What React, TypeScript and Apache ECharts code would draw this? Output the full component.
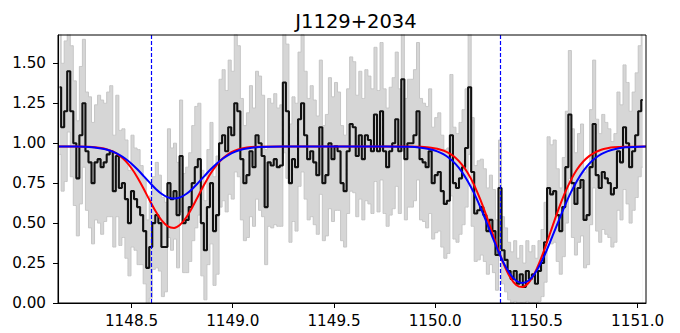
import React, { useEffect, useRef } from 'react';
import * as echarts from 'echarts';

const titleText = 'J1129+2034';
const waveStart = 1148.145;
const waveStep = 0.015;

const flux = [
  1.35, 1.1, 1.2, 1.45, 1.2, 1.0, 0.78, 1.05, 1.25, 0.95,
  0.88, 0.75, 0.88, 0.9, 0.85, 0.88, 0.93, 0.95, 0.7, 0.92,
  0.72, 0.75, 0.65, 0.5, 0.7, 0.65, 0.6, 0.55, 0.45, 0.22,
  0.35, 0.5, 0.55, 0.5, 0.35, 0.35, 0.75, 0.65, 0.7, 0.55,
  0.92, 0.5, 0.52, 0.6, 0.75, 0.85, 0.9, 0.5, 0.33, 0.6,
  0.75, 0.45, 0.55, 1.0, 1.05, 0.95, 1.1, 1.05, 1.25, 1.2,
  0.9, 0.75, 0.8, 0.95, 0.85, 1.05, 1.0, 0.92, 0.6, 0.88,
  0.86, 0.9, 0.85, 0.86, 1.38, 1.2, 0.75, 0.9, 0.85, 1.15,
  1.25, 1.05, 0.9, 0.95, 0.88, 0.8, 1.1, 0.75, 0.8, 1.0,
  0.9, 0.98, 0.95, 0.75, 0.7, 0.95, 1.12, 1.1, 0.92, 1.05,
  0.9, 1.05, 1.02, 0.95, 1.18, 0.95, 1.2, 0.95, 0.85, 0.95,
  1.0, 1.15, 0.95, 1.4, 0.9, 1.0, 1.0, 1.05, 1.2, 0.9,
  0.88, 0.85, 0.95, 0.75, 0.8, 0.82, 0.7, 0.62, 0.64, 1.05,
  0.75, 0.72, 0.78, 0.85, 0.97, 1.35, 0.82, 0.56, 0.58, 0.6,
  0.55, 0.45, 0.52, 0.45, 0.3, 0.72, 0.33, 0.27, 0.2, 0.15,
  0.2, 0.12, 0.18, 0.1, 0.2, 0.15, 0.18, 0.12, 0.2, 0.25,
  0.38, 0.72, 0.68, 0.7, 0.55, 0.45, 0.6, 0.85, 1.18, 0.75,
  0.62, 0.72, 0.77, 0.52, 0.55, 0.85, 1.12, 0.8, 0.72, 0.82,
  0.78, 0.75, 0.68, 0.72, 0.95, 0.88, 1.1, 1.0, 0.85, 0.95,
  1.05, 1.2, 1.27,
];

const fluxErr = [
  0.42, 0.40, 0.44, 0.38, 0.41, 0.39, 0.36, 0.43, 0.40, 0.37,
  0.41, 0.38, 0.36, 0.40, 0.42, 0.37, 0.39, 0.41, 0.35, 0.38,
  0.36, 0.34, 0.37, 0.33, 0.35, 0.32, 0.36, 0.31, 0.33, 0.30,
  0.32, 0.29, 0.33, 0.30, 0.31, 0.28, 0.34, 0.32, 0.30, 0.33,
  0.35, 0.31, 0.33, 0.34, 0.36, 0.38, 0.35, 0.33, 0.31, 0.36,
  0.38, 0.34, 0.37, 0.40, 0.41, 0.38, 0.42, 0.40, 0.43, 0.41,
  0.38, 0.36, 0.39, 0.41, 0.37, 0.40, 0.42, 0.38, 0.36, 0.40,
  0.39, 0.41, 0.37, 0.38, 0.44, 0.42, 0.37, 0.39, 0.40, 0.42,
  0.43, 0.40, 0.38, 0.41, 0.39, 0.37, 0.42, 0.36, 0.38, 0.41,
  0.39, 0.40, 0.37, 0.36, 0.35, 0.39, 0.42, 0.41, 0.38, 0.40,
  0.38, 0.41, 0.40, 0.39, 0.42, 0.38, 0.43, 0.39, 0.37, 0.40,
  0.41, 0.42, 0.39, 0.45, 0.38, 0.40, 0.40, 0.41, 0.43, 0.38,
  0.37, 0.38, 0.39, 0.35, 0.36, 0.37, 0.35, 0.34, 0.33, 0.38,
  0.35, 0.34, 0.35, 0.36, 0.37, 0.42, 0.34, 0.30, 0.31, 0.30,
  0.29, 0.27, 0.28, 0.26, 0.22, 0.30, 0.21, 0.20, 0.18, 0.17,
  0.19, 0.16, 0.18, 0.15, 0.19, 0.17, 0.18, 0.16, 0.19, 0.21,
  0.25, 0.32, 0.31, 0.32, 0.29, 0.27, 0.31, 0.35, 0.40, 0.34,
  0.32, 0.34, 0.35, 0.30, 0.31, 0.36, 0.40, 0.35, 0.34, 0.36,
  0.35, 0.34, 0.33, 0.34, 0.37, 0.36, 0.39, 0.38, 0.35, 0.37,
  0.39, 0.41, 0.42,
];

const modelWave = [
  1148.14, 1148.22, 1148.29,
  1148.35, 1148.38, 1148.41, 1148.44, 1148.47, 1148.50, 1148.53, 1148.56, 1148.59,
  1148.62, 1148.65, 1148.68, 1148.71, 1148.74, 1148.77, 1148.80, 1148.83, 1148.86,
  1148.89, 1148.92, 1148.95, 1148.98, 1149.01, 1149.04, 1149.07,
  1149.13, 1149.25, 1149.50, 1149.75, 1149.87, 1149.93,
  1149.98, 1150.01, 1150.04, 1150.07, 1150.10, 1150.13, 1150.16, 1150.19, 1150.22,
  1150.25, 1150.28, 1150.31, 1150.34, 1150.37, 1150.40, 1150.43, 1150.46, 1150.49,
  1150.52, 1150.55, 1150.58, 1150.61, 1150.64, 1150.67, 1150.70, 1150.73, 1150.76,
  1150.79, 1150.82, 1150.85, 1150.88,
  1150.94, 1151.04,
];

const modelRed = [
  0.98, 0.98, 0.978,
  0.970, 0.961, 0.947, 0.923, 0.889, 0.843, 0.784, 0.715, 0.641,
  0.572, 0.515, 0.479, 0.470, 0.490, 0.535, 0.598, 0.671, 0.743,
  0.809, 0.863, 0.904, 0.934, 0.953, 0.965, 0.973,
  0.978, 0.98, 0.98, 0.98, 0.98, 0.977,
  0.972, 0.965, 0.954, 0.936, 0.909, 0.869, 0.815, 0.744, 0.656,
  0.556, 0.447, 0.338, 0.239, 0.161, 0.113, 0.100, 0.125, 0.184,
  0.270, 0.373, 0.483, 0.590, 0.687, 0.769, 0.835, 0.884, 0.919,
  0.943, 0.959, 0.968, 0.974,
  0.978, 0.98,
];

const modelBlue = [
  0.98, 0.979, 0.976,
  0.967, 0.959, 0.946, 0.927, 0.903, 0.872, 0.835, 0.794, 0.753,
  0.714, 0.682, 0.661, 0.654, 0.661, 0.682, 0.714, 0.753, 0.794,
  0.835, 0.872, 0.903, 0.927, 0.946, 0.959, 0.967,
  0.976, 0.98, 0.98, 0.98, 0.978, 0.972,
  0.961, 0.949, 0.932, 0.906, 0.871, 0.824, 0.764, 0.692, 0.608,
  0.516, 0.421, 0.328, 0.246, 0.181, 0.139, 0.125, 0.139, 0.181,
  0.246, 0.328, 0.421, 0.516, 0.608, 0.692, 0.764, 0.824, 0.871,
  0.906, 0.932, 0.949, 0.961,
  0.974, 0.98,
];

const lineCenters = [1148.6, 1150.323];
const xTicks = [1148.5, 1149.0, 1149.5, 1150.0, 1150.5, 1151.0];
const yTicks = [0, 0.25, 0.5, 0.75, 1.0, 1.25, 1.5];
const xRange = [1148.137, 1151.041];
const yRange = [0, 1.677];

const FONT = 'DejaVu Sans';
const BAND_EDGE = '#c6c6c6';
const DASH_BLUE = '#0000ff';

export default function App() {
  const ref = useRef<HTMLDivElement>(null);
  useEffect(() => {
    document.body.style.margin = '0';
    const chart = echarts.init(ref.current as HTMLDivElement, null, { renderer: 'svg' });
    const wave = flux.map((_, i) => +(waveStart + waveStep * i).toFixed(4));
    const upper = flux.map((f, i) => [wave[i], f + fluxErr[i]]);
    const lower = flux.map((f, i) => [wave[i], f - fluxErr[i]]);
    const spec = flux.map((f, i) => [wave[i], f]);
    const red = modelWave.map((w, i) => [w, modelRed[i]]);
    const blue = modelWave.map((w, i) => [w, modelBlue[i]]);

    const dashStyle = { color: DASH_BLUE, type: [4, 2], width: 1.2 };

    chart.setOption({
      animation: false,
      title: {
        text: titleText,
        left: 351,
        top: 6,
        textAlign: 'center',
        textStyle: { fontFamily: FONT, fontSize: 19.5, fontWeight: 'normal', color: '#000' },
      },
      grid: {
        left: 58, right: 34, top: 35, bottom: 30,
        show: true, borderColor: '#000', borderWidth: 1, backgroundColor: 'transparent', z: 10,
      },
      xAxis: {
        type: 'value',
        z: 10,
        min: xRange[0], max: xRange[1],
        axisLine: { show: true, lineStyle: { color: '#000', width: 1 } },
        axisTick: { show: true, customValues: xTicks, length: 5, lineStyle: { color: '#000' } },
        axisLabel: {
          customValues: xTicks,
          formatter: (v: number) => v.toFixed(1),
          fontFamily: FONT, fontSize: 15.2, color: '#000', margin: 10,
        },
        splitLine: { show: false },
      },
      yAxis: {
        type: 'value',
        z: 10,
        min: yRange[0], max: yRange[1],
        axisLine: { show: true, lineStyle: { color: '#000', width: 1 } },
        axisTick: { show: true, customValues: yTicks, length: 5, lineStyle: { color: '#000' } },
        axisLabel: {
          customValues: yTicks,
          formatter: (v: number) => v.toFixed(2),
          fontFamily: FONT, fontSize: 15.2, color: '#000', margin: 12,
        },
        splitLine: { show: false },
      },
      series: [
        {
          type: 'line', data: upper, step: 'middle', symbol: 'none',
          lineStyle: { color: BAND_EDGE, width: 1 },
          areaStyle: { color: '#d6d6d6', opacity: 1, origin: 'start' }, z: 1, silent: true,
        },
        {
          type: 'line', data: lower, step: 'middle', symbol: 'none',
          lineStyle: { color: BAND_EDGE, width: 1 },
          areaStyle: { color: '#ffffff', opacity: 1, origin: 'start' }, z: 2, silent: true,
        },
        {
          type: 'line', data: spec, step: 'middle', symbol: 'none',
          lineStyle: { color: '#111111', width: 2.1 }, z: 3, silent: true,
          markLine: {
            symbol: 'none', silent: true, label: { show: false },
            lineStyle: dashStyle,
            data: lineCenters.map((c) => ({ xAxis: c, lineStyle: dashStyle })),
          },
        },
        {
          type: 'line', data: red, smooth: 0.3, symbol: 'none',
          lineStyle: { color: '#ff0000', width: 2 }, z: 4, silent: true,
        },
        {
          type: 'line', data: blue, smooth: 0.3, symbol: 'none',
          lineStyle: { color: '#0000ff', width: 2 }, z: 5, silent: true,
        },
      ],
    });
    return () => chart.dispose();
  }, []);
  return <div ref={ref} style={{ width: 680, height: 333 }} />;
}
